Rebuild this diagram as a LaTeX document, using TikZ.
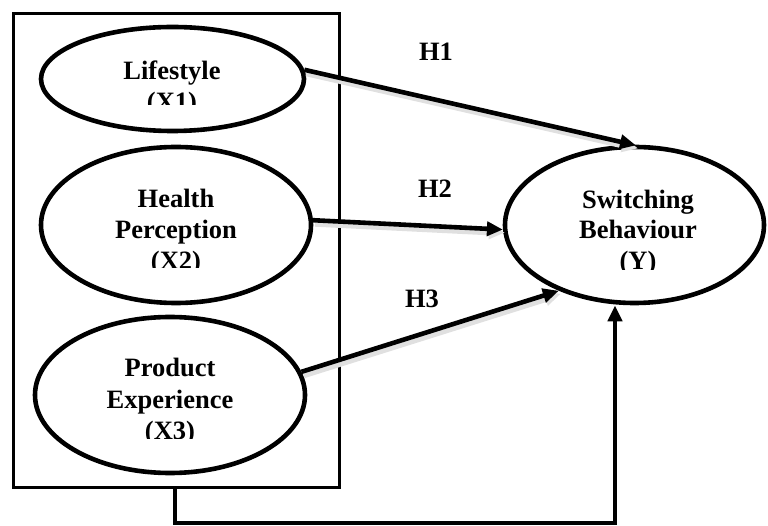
\documentclass[tikz,border=0pt]{standalone}
\usepackage{fontspec}
\setmainfont{Liberation Serif}
\usetikzlibrary{shapes.geometric,arrows.meta}
\begin{document}
\begin{tikzpicture}[x=1pt,y=-1pt,
  latent/.style={ellipse, draw, line width=4.6pt, inner sep=0pt, fill=white},
  lbl/.style={anchor=base, inner sep=0pt, font=\fontsize{26.5}{31}\bfseries\selectfont},
  arr/.style={line width=4.6pt, -{Triangle[length=16pt,width=14pt]}},
  shad/.style={preaction={draw=black!12, line width=7pt, transform canvas={xshift=2pt,yshift=-3pt}}}]
\useasboundingbox (0,0) rectangle (768,526);
% outer box
\node[draw, line width=3.6pt, minimum width=326pt, minimum height=474pt, inner sep=0pt] (box) at (176.5,250.5) {};
% latent variables
\node[latent, minimum width=263pt, minimum height=104pt] (l1) at (172.5,79) {};
\node[latent, minimum width=270pt, minimum height=156pt] (l2) at (176,225) {};
\node[latent, minimum width=270pt, minimum height=156pt] (l3) at (170,395) {};
\node[latent, minimum width=259pt, minimum height=156pt] (sw) at (634.5,225) {};
% paths
\draw[arr, shad, shorten >=-3pt] (l1.4) -- (sw.91);
\draw[arr, shad] (l2.2) -- (sw.182);
\draw[arr, shad] (l3.10) -- (sw.221);
\coordinate (c1) at (175,523);
\coordinate (c2) at (615,523);
\draw[arr, line width=4.2pt] (box.south -| c1) -- (c1) -- (c2) -- (c2 |- sw.south);
% hypothesis labels
\node[lbl] (h1) at (436,61) {H1};
\node[lbl] (h2) at (435,198) {H2};
\node[lbl] (h3) at (422,308) {H3};
% ellipse texts
\node[lbl] (t1a) at (172,80) {Lifestyle};
\begin{scope}\clip (60,85) rectangle (290,105);
\node[lbl] (t1b) at (172,111) {(X1)};
\end{scope}
\node[lbl] (t2a) at (176,208) {Health};
\node[lbl] (t2b) at (176,239) {Perception};
\begin{scope}\clip (60,245) rectangle (290,268);
\node[lbl] (t2c) at (176,270) {(X2)};
\end{scope}
\node[lbl] (t3a) at (170,377) {Product};
\node[lbl] (t3b) at (170,408) {Experience};
\begin{scope}\clip (60,414) rectangle (290,438);
\node[lbl] (t3c) at (170,439) {(X3)};
\end{scope}
\node[lbl] (t4a) at (638,209) {Switching};
\node[lbl] (t4b) at (638,239) {Behaviour};
\begin{scope}\clip (520,245) rectangle (750,270);
\node[lbl] (t4c) at (638,270) {(Y)};
\end{scope}
\end{tikzpicture}
\end{document}
